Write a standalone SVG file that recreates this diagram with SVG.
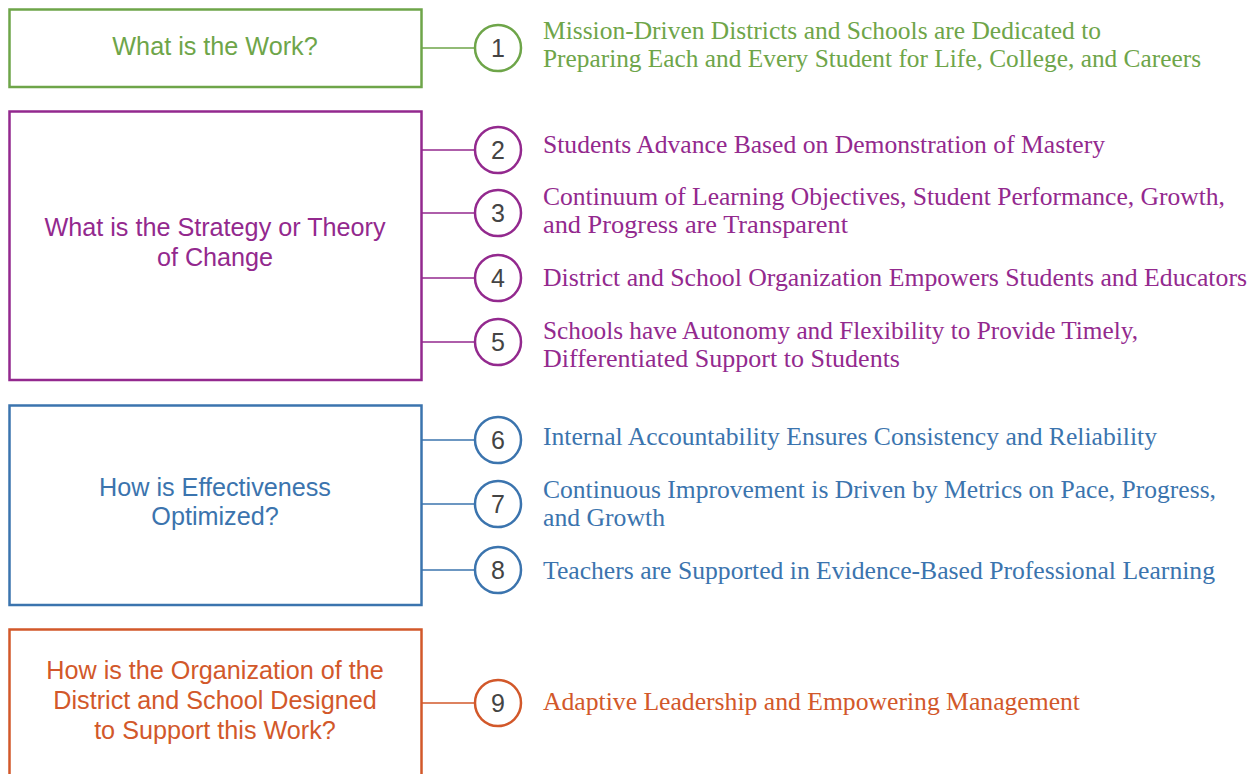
<svg xmlns="http://www.w3.org/2000/svg" width="1253" height="774" viewBox="0 0 1253 774">
<style>
.box{fill:#ffffff;stroke-width:2.5}
.q{font-family:"Liberation Sans",Arial,sans-serif;font-size:25.2px;text-anchor:middle}
.it{font-family:"Liberation Serif","Times New Roman",serif;font-size:25px}
.num{font-family:"Liberation Sans",Arial,sans-serif;font-size:25px;fill:#444444;text-anchor:middle}
.c{fill:#ffffff;stroke-width:2.5}
.ln{stroke-width:1.6;fill:none}
.g{stroke:#6ea549}.gt{fill:#6ea549}
.p{stroke:#93298e}.pt{fill:#93298e}
.b{stroke:#3b74ae}.bt{fill:#3b74ae}
.o{stroke:#d2582a}.ot{fill:#d2582a}
</style>
<rect width="1253" height="774" fill="#ffffff"/>
<g id="connectors">
<line class="ln g" x1="421" y1="48" x2="476" y2="48"/>
<line class="ln p" x1="421" y1="150" x2="476" y2="150"/>
<line class="ln p" x1="421" y1="213" x2="476" y2="213"/>
<line class="ln p" x1="421" y1="278" x2="476" y2="278"/>
<line class="ln p" x1="421" y1="342" x2="476" y2="342"/>
<line class="ln b" x1="421" y1="440" x2="476" y2="440"/>
<line class="ln b" x1="421" y1="504" x2="476" y2="504"/>
<line class="ln b" x1="421" y1="570" x2="476" y2="570"/>
<line class="ln o" x1="421" y1="703" x2="476" y2="703"/>
</g>
<g id="box-work">
<rect class="box g" x="9.5" y="9.5" width="412" height="77.5"/>
<text class="q gt" x="215" y="55">What is the Work?</text>
</g>
<g id="box-strategy">
<rect class="box p" x="9.5" y="111.5" width="412" height="268.5"/>
<text class="q pt" x="215" y="236">What is the Strategy or Theory</text>
<text class="q pt" x="215" y="266">of Change</text>
</g>
<g id="box-effectiveness">
<rect class="box b" x="9.5" y="405.5" width="412" height="199.5"/>
<text class="q bt" x="215" y="496">How is Effectiveness</text>
<text class="q bt" x="215" y="525">Optimized?</text>
</g>
<g id="box-organization">
<rect class="box o" x="9.5" y="629.5" width="412" height="160"/>
<text class="q ot" x="215" y="679">How is the Organization of the</text>
<text class="q ot" x="215" y="709">District and School Designed</text>
<text class="q ot" x="215" y="739">to Support this Work?</text>
</g>
<g id="item-1">
<circle class="c g" cx="498" cy="48" r="23"/>
<text class="num" x="498" y="57">1</text>
<text class="it gt" x="543" y="39" textLength="558" lengthAdjust="spacingAndGlyphs">Mission-Driven Districts and Schools are Dedicated to</text>
<text class="it gt" x="543" y="67" textLength="658" lengthAdjust="spacingAndGlyphs">Preparing Each and Every Student for Life, College, and Careers</text>
</g>
<g id="item-2">
<circle class="c p" cx="498" cy="150" r="23"/>
<text class="num" x="498" y="159">2</text>
<text class="it pt" x="543" y="153" textLength="562" lengthAdjust="spacingAndGlyphs">Students Advance Based on Demonstration of Mastery</text>
</g>
<g id="item-3">
<circle class="c p" cx="498" cy="213" r="23"/>
<text class="num" x="498" y="222">3</text>
<text class="it pt" x="543" y="205" textLength="682" lengthAdjust="spacingAndGlyphs">Continuum of Learning Objectives, Student Performance, Growth,</text>
<text class="it pt" x="543" y="233" textLength="305" lengthAdjust="spacingAndGlyphs">and Progress are Transparent</text>
</g>
<g id="item-4">
<circle class="c p" cx="498" cy="278" r="23"/>
<text class="num" x="498" y="287">4</text>
<text class="it pt" x="543" y="286" textLength="704" lengthAdjust="spacingAndGlyphs">District and School Organization Empowers Students and Educators</text>
</g>
<g id="item-5">
<circle class="c p" cx="498" cy="342" r="23"/>
<text class="num" x="498" y="351">5</text>
<text class="it pt" x="543" y="339" textLength="595" lengthAdjust="spacingAndGlyphs">Schools have Autonomy and Flexibility to Provide Timely,</text>
<text class="it pt" x="543" y="367" textLength="357" lengthAdjust="spacingAndGlyphs">Differentiated Support to Students</text>
</g>
<g id="item-6">
<circle class="c b" cx="498" cy="440" r="23"/>
<text class="num" x="498" y="449">6</text>
<text class="it bt" x="543" y="445" textLength="614" lengthAdjust="spacingAndGlyphs">Internal Accountability Ensures Consistency and Reliability</text>
</g>
<g id="item-7">
<circle class="c b" cx="498" cy="504" r="23"/>
<text class="num" x="498" y="513">7</text>
<text class="it bt" x="543" y="498" textLength="673" lengthAdjust="spacingAndGlyphs">Continuous Improvement is Driven by Metrics on Pace, Progress,</text>
<text class="it bt" x="543" y="526" textLength="122" lengthAdjust="spacingAndGlyphs">and Growth</text>
</g>
<g id="item-8">
<circle class="c b" cx="498" cy="570" r="23"/>
<text class="num" x="498" y="579">8</text>
<text class="it bt" x="543" y="579" textLength="672" lengthAdjust="spacingAndGlyphs">Teachers are Supported in Evidence-Based Professional Learning</text>
</g>
<g id="item-9">
<circle class="c o" cx="498" cy="703" r="23"/>
<text class="num" x="498" y="712">9</text>
<text class="it ot" x="543" y="710" textLength="537" lengthAdjust="spacingAndGlyphs">Adaptive Leadership and Empowering Management</text>
</g>
</svg>
